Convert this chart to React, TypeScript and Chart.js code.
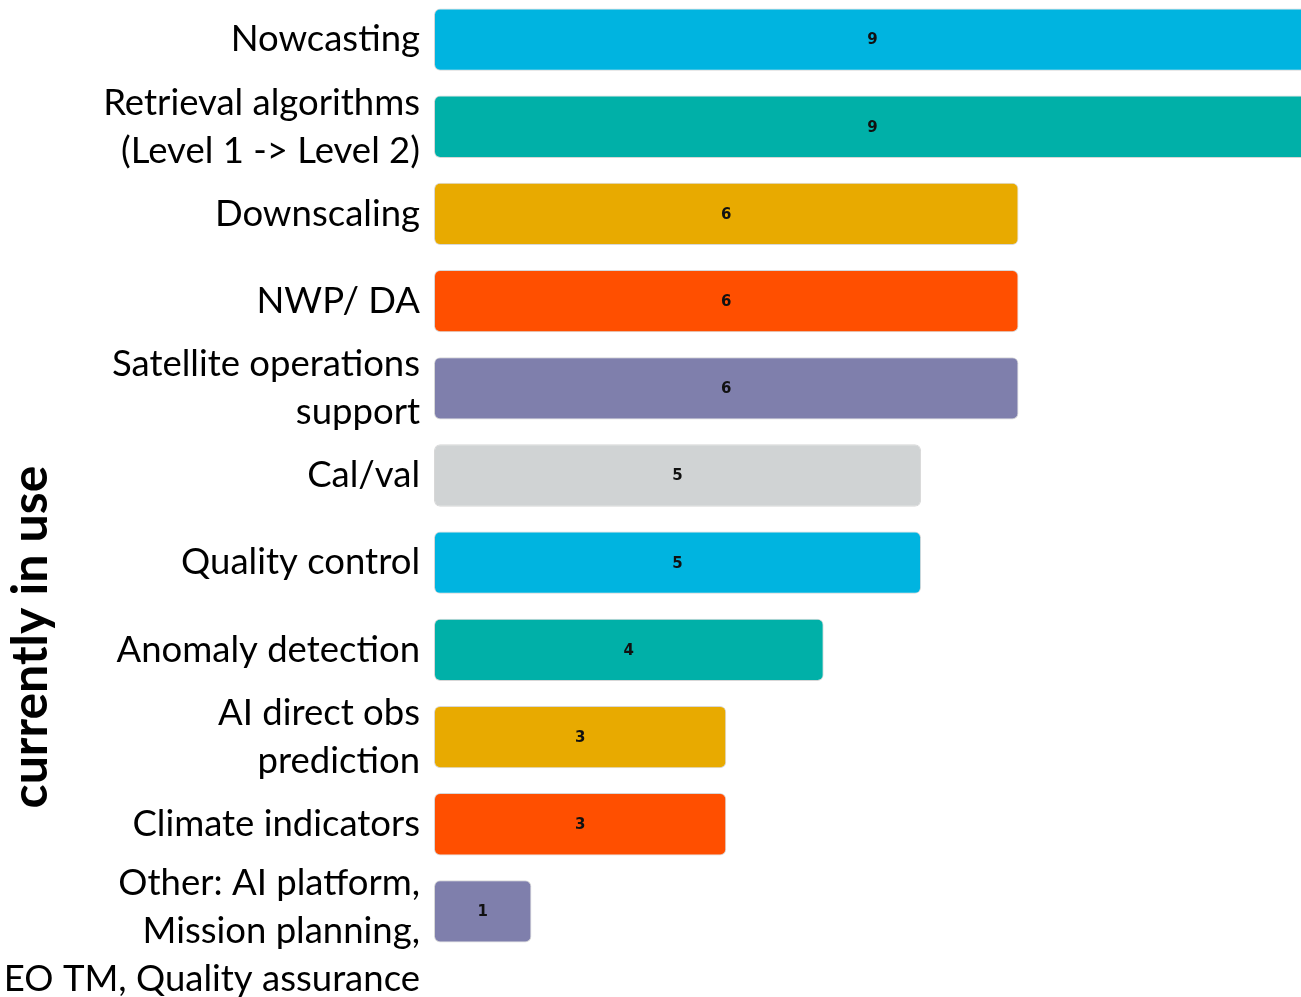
import React, { useEffect, useRef } from "react";
import { Chart, registerables } from "chart.js";

Chart.register(...registerables);

const categories: string[][] = [
  ["Nowcasting"],
  ["Retrieval algorithms", "(Level 1 -> Level 2)"],
  ["Downscaling"],
  ["NWP/ DA"],
  ["Satellite operations", "support"],
  ["Cal/val"],
  ["Quality control"],
  ["Anomaly detection"],
  ["AI direct obs", "prediction"],
  ["Climate indicators"],
  ["Other: AI platform,", "Mission planning,", "EO TM, Quality assurance"],
];

const counts: number[] = [9, 9, 6, 6, 6, 5, 5, 4, 3, 3, 1];

const barColors: string[] = [
  "#00B4E0",
  "#00B0A8",
  "#E8AA00",
  "#FF4F00",
  "#7F7FAC",
  "#D0D3D4",
  "#00B4E0",
  "#00B0A8",
  "#E8AA00",
  "#FF4F00",
  "#7F7FAC",
];

const axisTitle = "currently in use";

const FONT = "Lato, 'Open Sans', sans-serif";

const labelPlugin = {
  id: "customLabels",
  afterDatasetsDraw(chart: any) {
    const { ctx, chartArea } = chart;
    const yScale = chart.scales.y;
    const meta = chart.getDatasetMeta(0);
    const rowH = (chartArea.bottom - chartArea.top) / categories.length;
    ctx.save();
    // value labels
    ctx.fillStyle = "#111";
    ctx.font = `bold 15px 'DejaVu Sans', sans-serif`;
    ctx.textAlign = "center";
    ctx.textBaseline = "middle";
    meta.data.forEach((el: any, i: number) => {
      const cx = (el.x + el.base) / 2;
      ctx.fillText(String(counts[i]), cx, el.y + 1);
    });
    // category labels
    ctx.fillStyle = "#000";
    ctx.font = `36.5px ${FONT}`;
    ctx.textAlign = "right";
    const lineH = 48;
    categories.forEach((lines, i) => {
      const y = yScale.getPixelForTick(i);
      const rowTop = y - rowH / 2;
      const startY = Math.max(y - ((lines.length - 1) * lineH) / 2, rowTop + 15);
      lines.forEach((ln, j) => {
        ctx.fillText(ln, chartArea.left - 14, startY + j * lineH);
      });
    });
    // rotated title
    ctx.font = `bold 50px ${FONT}`;
    ctx.textAlign = "center";
    ctx.translate(31, 641);
    ctx.rotate(-Math.PI / 2);
    ctx.fillText(axisTitle, 0, 0);
    ctx.restore();
  },
};

export default function App() {
  const ref = useRef<HTMLCanvasElement | null>(null);
  useEffect(() => {
    if (!ref.current) return;
    const chart = new Chart(ref.current, {
      type: "bar",
      data: {
        labels: categories.map((c) => c.join(" ")),
        datasets: [
          {
            data: counts,
            backgroundColor: barColors,
            borderColor: "rgba(140,140,140,0.35)",
            borderWidth: 1,
            borderRadius: 6,
            borderSkipped: false,
            barPercentage: 0.715,
            categoryPercentage: 1,
          },
        ],
      },
      options: {
        indexAxis: "y",
        responsive: false,
        animation: false,
        layout: { padding: { left: 434, right: 0, top: 0, bottom: 42 } },
        plugins: { legend: { display: false }, tooltip: { enabled: false } },
        scales: {
          x: { display: false, min: 0, max: 8.9 },
          y: { display: false, offset: true },
        },
      },
      plugins: [labelPlugin],
    });
    return () => chart.destroy();
  }, []);
  return (
    <div style={{ position: "absolute", left: 0, top: 0, width: 1301, height: 997, overflow: "hidden", background: "#fff" }}>
      <canvas ref={ref} width={1301} height={1001} style={{ display: "block", position: "absolute", left: 0, top: -4 }} />
    </div>
  );
}
